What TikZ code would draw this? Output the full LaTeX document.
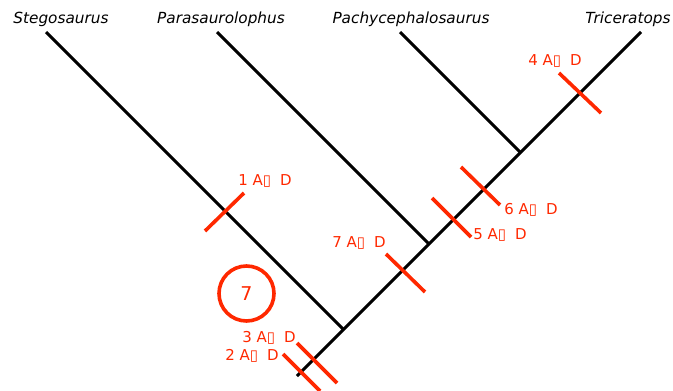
\documentclass[tikz,border=0pt]{standalone}
\usepackage{fontspec}
\setmainfont{DejaVu Sans}
\begin{document}
\begin{tikzpicture}[x=1pt,y=-1pt,
  branch/.style={line width=3pt,black},
  synapo/.style={line width=3.6pt,draw=charred},
  taxon/.style={font=\itshape\fontsize{15.3}{17}\selectfont,inner sep=0pt,anchor=base},
  charlbl/.style={font=\fontsize{15}{17}\selectfont,text=charred,inner sep=0pt},
]
\definecolor{charred}{RGB}{255,40,0}
\useasboundingbox (0,0) rectangle (673,391);

% taxon names
\node[taxon] (tStego) at (61,23) {Stegosaurus};
\node[taxon] (tPara)  at (221,23) {Parasaurolophus};
\node[taxon] (tPachy) at (411,23) {Pachycephalosaurus};
\node[taxon] (tTri)   at (628,23) {Triceratops};

% tips, internal nodes and root of the tree
\coordinate (sTip) at (46,32);
\coordinate (pTip) at (217,32);
\coordinate (cTip) at (400,32);
\coordinate (tTip) at (641,32);
\coordinate (nS)   at (343.5,329.5);
\coordinate (nP)   at (429,244);
\coordinate (nC)   at (520.5,152.5);
\coordinate (root) at (297,376);

\draw[branch] (root) -- (tTip);
\draw[branch] (sTip) -- (nS);
\draw[branch] (pTip) -- (nP);
\draw[branch] (cTip) -- (nC);

% character changes marked across the branches
\draw[synapo] (205,231) -- (244,193);
\draw[synapo] (559,73) -- (601,113);
\draw[synapo] (461,167) -- (500,205);
\draw[synapo] (432,198) -- (471,237);
\draw[synapo] (386,254) -- (425,292);
\draw[synapo] (297,343) -- (337,383);
\draw[synapo] (283,354) -- (320,391);

% character labels
\newcommand{\chg}[1]{#1 A▯\hspace{9pt}D}
\node[charlbl] (c1) at (265,181) {\chg{1}};
\node[charlbl] (c4) at (555,61)  {\chg{4}};
\node[charlbl] (c6) at (531,210) {\chg{6}};
\node[charlbl] (c5) at (500,235) {\chg{5}};
\node[charlbl] (c7) at (359,243) {\chg{7}};
\node[charlbl] (c3) at (269,338) {\chg{3}};
\node[charlbl] (c2) at (252,356) {\chg{2}};

% total step count
\node[circle,draw=charred,line width=3.6pt,minimum size=55pt,inner sep=0pt,
      text=charred,font=\fontsize{19}{21}\selectfont] (steps) at (246.5,293.5) {7};
\end{tikzpicture}
\end{document}
